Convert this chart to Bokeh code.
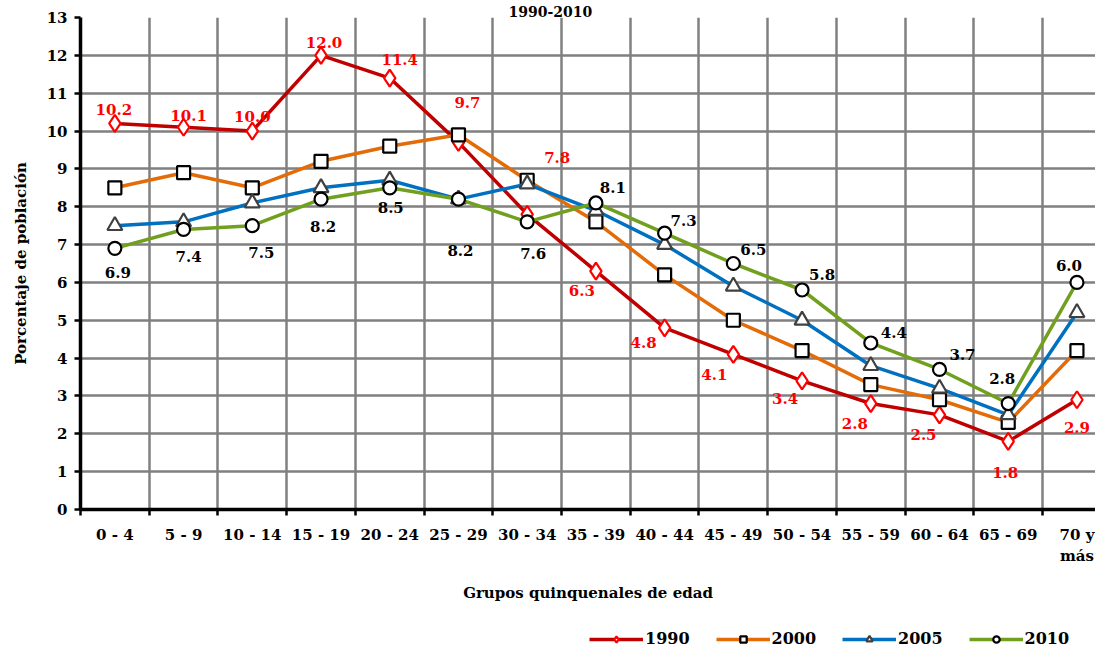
from bokeh.plotting import figure
from bokeh.layouts import column
from bokeh.models import (Range1d, FixedTicker, ColumnDataSource, Legend, LegendItem)
from bokeh.core.properties import value
from bokeh.embed import file_html
from bokeh.resources import INLINE

categories = ["0 - 4", "5 - 9", "10 - 14", "15 - 19", "20 - 24", "25 - 29", "30 - 34",
              "35 - 39", "40 - 44", "45 - 49", "50 - 54", "55 - 59", "60 - 64", "65 - 69",
              "70 y\nmás"]
v1990 = [10.2, 10.1, 10.0, 12.0, 11.4, 9.7, 7.8, 6.3, 4.8, 4.1, 3.4, 2.8, 2.5, 1.8, 2.9]
v2000 = [8.5, 8.9, 8.5, 9.2, 9.6, 9.9, 8.7, 7.6, 6.2, 5.0, 4.2, 3.3, 2.9, 2.3, 4.2]
v2005 = [7.5, 7.6, 8.1, 8.5, 8.7, 8.2, 8.6, 7.9, 7.0, 5.9, 5.0, 3.8, 3.2, 2.5, 5.2]
v2010 = [6.9, 7.4, 7.5, 8.2, 8.5, 8.2, 7.6, 8.1, 7.3, 6.5, 5.8, 4.4, 3.7, 2.8, 6.0]
yticks = list(range(0, 14))
title_text = "1990-2010"

# label offsets (pixels) for data labels
dx1990 = [-1, 5, 0, 3, 10, 9, 30, -14, -21, -19, -17, -16, -16, -3, 0]
dy1990 = [-14, -12, -15, -13, -19, -40, -57, 19, 15, 20, 18, 20, 20, 31, 28]
dx2010 = [3, 5, 9, 2, 1, 2, 6, 17, 19, 20, 20, 23, 23, -6, -8]
dy2010 = [24, 27, 27, 27, 20, 51, 32, -15, -13, -14, -15, -10, -15, -25, -17]

FONT = "DejaVu Serif"
xs = [i + 0.5 for i in range(len(categories))]

p = figure(width=1095, height=605, x_range=Range1d(0, 14.77), y_range=Range1d(0, 13),
           output_backend="svg", toolbar_location=None,
           min_border_left=80, min_border_right=0, min_border_top=17, min_border_bottom=96)
p.outline_line_color = None
p.background_fill_color = "white"

p.title.text = title_text
p.title.align = "left"
p.title.offset = 428
p.title.text_font = FONT
p.title.text_font_style = "bold"
p.title.text_font_size = "14px"
p.title.standoff = 2
p.title.text_color = "black"

# grids
p.xgrid.ticker = FixedTicker(ticks=list(range(0, 16)))
p.ygrid.ticker = FixedTicker(ticks=yticks)
for g in (p.xgrid, p.ygrid):
    g.grid_line_color = "#808080"
    g.grid_line_width = 2.5

# x axis
p.xaxis.ticker = FixedTicker(ticks=xs, minor_ticks=list(range(0, 16)))
p.xaxis.major_label_overrides = {x: c for x, c in zip(xs, categories)}
p.xaxis.major_tick_out = 0
p.xaxis.major_tick_in = 0
p.xaxis.minor_tick_out = 6
p.xaxis.minor_tick_in = 0
p.xaxis.minor_tick_line_color = "black"
p.xaxis.minor_tick_line_width = 2.5
p.xaxis.axis_line_width = 3.5
p.xaxis.axis_line_color = "black"
p.xaxis.major_label_standoff = 10
p.xaxis.axis_label = "Grupos quinquenales de edad"
p.xaxis.axis_label_standoff = 16

# y axis
p.yaxis.ticker = FixedTicker(ticks=yticks)
p.yaxis.major_tick_out = 6
p.yaxis.major_tick_in = 0
p.yaxis.minor_tick_out = 0
p.yaxis.minor_tick_in = 0
p.yaxis.major_tick_line_width = 2.5
p.yaxis.major_tick_line_color = "black"
p.yaxis.axis_line_width = 3.5
p.yaxis.axis_line_color = "black"
p.yaxis.major_label_standoff = 7
p.yaxis.axis_label = "Porcentaje de población"
p.yaxis.axis_label_standoff = 14

for ax in (p.xaxis, p.yaxis):
    ax.major_label_text_font = FONT
    ax.major_label_text_font_style = "bold"
    ax.major_label_text_font_size = "15px"
    ax.major_label_text_color = "black"
    ax.axis_label_text_font = FONT
    ax.axis_label_text_font_style = "bold"
    ax.axis_label_text_font_size = "15px"
    ax.axis_label_text_color = "black"

series = [
    ("1990", v1990, "#C00000", "diamond", 17, "#FF0000"),
    ("2000", v2000, "#E36C09", "square", 13, "black"),
    ("2005", v2005, "#0070C0", "triangle", 15, "#404040"),
    ("2010", v2010, "#70A01E", "circle", 13, "black"),
]

# separate strip for the legend, below the chart (its range keeps the data out of view)
q = figure(width=1095, height=44, x_range=Range1d(100, 101), y_range=Range1d(100, 101),
           output_backend="svg", toolbar_location=None,
           x_axis_location=None, y_axis_location=None,
           min_border_left=0, min_border_right=0, min_border_top=0, min_border_bottom=0)
q.outline_line_color = None
q.grid.visible = False

items = []
for name, vals, col, mk, sz, mcol in series:
    src = ColumnDataSource(dict(x=xs, y=vals))
    p.line("x", "y", source=src, line_color=col, line_width=3.5)
    p.scatter("x", "y", source=src, marker=mk, size=sz, fill_color="white",
              line_color=mcol, line_width=2.2)
    ln = q.line("x", "y", source=src, line_color=col, line_width=3.5)
    sc = q.scatter("x", "y", source=src, marker=mk, size=sz, fill_color="white",
                   line_color=mcol, line_width=2.2)
    items.append(LegendItem(label=name, renderers=[ln, sc]))

lab1990 = ColumnDataSource(dict(x=xs, y=v1990, t=["%.1f" % v for v in v1990],
                                dx=dx1990, dy=dy1990))
p.text("x", "y", text="t", source=lab1990, x_offset="dx", y_offset="dy",
       text_font=value(FONT), text_font_style="bold", text_font_size="15px",
       text_color="#FF0000", text_align="center", text_baseline="middle")
lab2010 = ColumnDataSource(dict(x=xs, y=v2010, t=["%.1f" % v for v in v2010],
                                dx=dx2010, dy=dy2010))
p.text("x", "y", text="t", source=lab2010, x_offset="dx", y_offset="dy",
       text_font=value(FONT), text_font_style="bold", text_font_size="15px",
       text_color="black", text_align="center", text_baseline="middle")

legend = Legend(items=items, orientation="horizontal", location=(509, 1),
                label_text_font=FONT, label_text_font_style="bold", label_text_font_size="16px",
                label_text_color="black",
                glyph_width=54, glyph_height=16, label_standoff=2, spacing=26,
                border_line_color=None, background_fill_alpha=0, margin=0, padding=2)
q.add_layout(legend, "center")

layout = column(p, q, spacing=0)
open("out.html", "w").write(file_html(layout, INLINE))
